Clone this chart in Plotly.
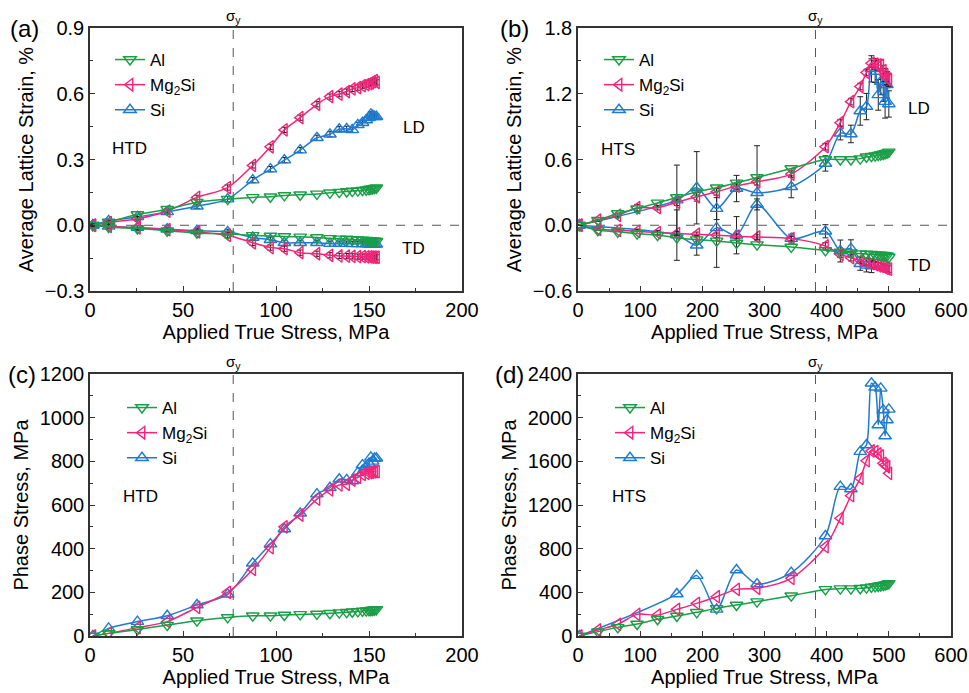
import plotly.graph_objects as go

# ---------------- data ----------------
# Panel (a)/(c): HTD
x_htd = [1.5, 10, 25.5, 41.5, 57.5, 74, 87.5, 97, 104.5, 113, 122, 129, 134, 138, 141, 144, 146.5, 148.5, 150, 151, 152, 153, 154]
al_ld_a = [0, 0.015, 0.049, 0.073, 0.105, 0.119, 0.127, 0.130, 0.136, 0.139, 0.143, 0.148, 0.151, 0.154, 0.156, 0.158, 0.160, 0.162, 0.164, 0.166, 0.167, 0.169, 0.171]
mg_ld_a = [0, 0.012, 0.030, 0.064, 0.127, 0.172, 0.273, 0.358, 0.435, 0.491, 0.552, 0.587, 0.598, 0.610, 0.622, 0.628, 0.637, 0.642, 0.646, 0.650, 0.655, 0.660, 0.652]
si_ld_a = [0, 0.020, 0.038, 0.061, 0.087, 0.119, 0.206, 0.256, 0.297, 0.343, 0.399, 0.415, 0.438, 0.440, 0.435, 0.458, 0.468, 0.480, 0.490, 0.506, 0.500, 0.495, 0.495]
al_td_a = [0, -0.008, -0.015, -0.025, -0.035, -0.040, -0.046, -0.049, -0.051, -0.053, -0.056, -0.060, -0.062, -0.063, -0.065, -0.066, -0.067, -0.068, -0.069, -0.070, -0.071, -0.072, -0.073]
mg_td_a = [0, -0.005, -0.012, -0.020, -0.030, -0.046, -0.080, -0.102, -0.107, -0.125, -0.130, -0.137, -0.140, -0.141, -0.142, -0.143, -0.143, -0.144, -0.144, -0.145, -0.145, -0.146, -0.146]
si_td_a = [0, -0.005, -0.010, -0.018, -0.025, -0.030, -0.056, -0.066, -0.080, -0.080, -0.080, -0.084, -0.084, -0.084, -0.085, -0.085, -0.085, -0.086, -0.086, -0.086, -0.087, -0.087, -0.087]
err_small_a = [0.006, 0.008, 0.010, 0.010, 0.010, 0.012, 0.012, 0.012, 0.012, 0.012, 0.012, 0.012, 0.012, 0.012, 0.012, 0.012, 0.012, 0.012, 0.012, 0.012, 0.012, 0.012, 0.012]

al_c = [0, 12, 30, 50, 70, 85, 93, 93, 96, 99, 101, 104, 107, 109, 111, 113, 115, 116, 117, 118, 119, 120, 122]
mg_c = [0, 12, 38, 66, 131, 200, 305, 405, 500, 554, 627, 669, 692, 695, 714, 727, 740, 745, 748, 750, 752, 753, 753]
si_c = [0, 35, 66, 93, 142, 191, 333, 421, 490, 562, 650, 679, 718, 715, 710, 748, 783, 776, 790, 818, 800, 814, 814]

# Panel (b)/(d): HTS
x_hts = [2, 32, 64, 95, 128, 159, 191, 223, 255, 288, 343, 398, 422, 439, 454, 464, 472, 478, 483, 487, 491, 494, 497, 500]
x_hts_si = [2, 159, 191, 223, 255, 288, 343, 398, 422, 439, 454, 464, 472, 478, 483, 487, 491, 494, 497, 500]
x_hts_si_td = [2, 159, 191, 223, 255, 288, 343, 398, 422, 439, 454, 464, 472]

al_ld_b = [0, 0.046, 0.107, 0.152, 0.204, 0.253, 0.305, 0.342, 0.387, 0.436, 0.518, 0.600, 0.600, 0.600, 0.608, 0.625, 0.630, 0.635, 0.640, 0.645, 0.650, 0.655, 0.660, 0.670]
mg_ld_b = [0, 0.046, 0.090, 0.160, 0.160, 0.210, 0.260, 0.305, 0.357, 0.396, 0.467, 0.717, 0.936, 1.128, 1.266, 1.394, 1.479, 1.470, 1.464, 1.460, 1.410, 1.372, 1.342, 1.327]
mg_ld_b_err = [0, 0.01, 0.02, 0.03, 0.02, 0.03, 0.04, 0.03, 0.03, 0.03, 0.03, 0.03, 0.03, 0.03, 0.03, 0.03, 0.04, 0.05, 0.05, 0.05, 0.05, 0.06, 0.06, 0.06]
si_ld_b = [0, 0.229, 0.342, 0.152, 0.335, 0.296, 0.351, 0.564, 0.839, 0.833, 1.043, 1.083, 1.427, 1.403, 1.190, 1.311, 1.281, 1.128, 1.281, 1.107]
si_ld_b_err = [0, 0.32, 0.33, 0.10, 0.12, 0.43, 0.10, 0.07, 0.06, 0.08, 0.13, 0.12, 0.12, 0.10, 0.14, 0.12, 0.15, 0.15, 0.12, 0.12]
al_td_b = [0, -0.046, -0.060, -0.076, -0.091, -0.113, -0.131, -0.143, -0.162, -0.177, -0.198, -0.229, -0.244, -0.250, -0.259, -0.262, -0.265, -0.268, -0.270, -0.272, -0.274, -0.276, -0.278, -0.290]
mg_td_b = [0, -0.037, -0.046, -0.055, -0.067, -0.076, -0.082, -0.091, -0.100, -0.107, -0.122, -0.189, -0.265, -0.296, -0.320, -0.335, -0.351, -0.360, -0.370, -0.375, -0.380, -0.390, -0.395, -0.400]
mg_td_b_err = [0, 0.01, 0.01, 0.02, 0.02, 0.02, 0.02, 0.02, 0.02, 0.02, 0.02, 0.03, 0.03, 0.03, 0.03, 0.03, 0.03, 0.03, 0.03, 0.03, 0.03, 0.03, 0.03, 0.03]
si_td_b = [0, -0.090, -0.183, -0.024, -0.091, 0.190, -0.122, -0.055, -0.235, -0.213, -0.351, -0.366, -0.372]
si_td_b_err = [0, 0.23, 0.09, 0.36, 0.17, 0.05, 0.04, 0.06, 0.10, 0.08, 0.06, 0.06, 0.06]

al_d = [0, 40, 79, 110, 153, 183, 217, 253, 284, 315, 369, 427, 434, 434, 437, 443, 450, 455, 458, 462, 466, 470, 475, 482]
mg_d = [0, 55, 107, 198, 192, 244, 299, 360, 427, 437, 528, 818, 1078, 1285, 1444, 1606, 1695, 1689, 1667, 1649, 1582, 1566, 1551, 1490]
si_d = [0, 385, 553, 244, 605, 476, 580, 916, 1368, 1347, 1689, 1750, 2315, 2278, 1933, 2268, 2070, 1832, 1979, 2076]

# ---------------- style ----------------
GREEN = "#1a9e46"
PINK = "#f5247a"
BLUE = "#1f7bd0"
FONT = "Liberation Sans, Arial, sans-serif"

W, H = 969, 693
def px_x(p):
    return p / W
def px_y(p):
    return 1 - p / H

dom_x_left = [px_x(90), px_x(462)]
dom_x_right = [px_x(578), px_x(951)]
dom_y_top = [px_y(291), px_y(28)]
dom_y_bot = [px_y(636), px_y(374)]

fig = go.Figure()

def err(arr):
    return dict(type="data", array=arr, color="#222222", thickness=1, width=3)

def add(x, y, name, color, symbol, xa, ya, legend, show, rank, e=None):
    fig.add_trace(go.Scatter(
        x=x, y=y, name=name, mode="lines+markers",
        line=dict(color=color, width=1.5, shape="spline", smoothing=0.8),
        marker=dict(symbol=symbol, size=11, color=color,
                    line=dict(color=color, width=1.4)),
        error_y=err(e) if e is not None else None,
        xaxis=xa, yaxis=ya, legend=legend, showlegend=show, legendrank=rank,
    ))

MG = "Mg<sub>2</sub>Si"
# panel a
add(x_htd, si_td_a, "Si", BLUE, "triangle-up-open", "x", "y", "legend", False, 3, err_small_a)
add(x_htd, mg_td_a, MG, PINK, "triangle-left-open", "x", "y", "legend", False, 2, err_small_a)
add(x_htd, al_td_a, "Al", GREEN, "triangle-down-open", "x", "y", "legend", False, 1)
add(x_htd, si_ld_a, "Si", BLUE, "triangle-up-open", "x", "y", "legend", True, 3, err_small_a)
add(x_htd, mg_ld_a, MG, PINK, "triangle-left-open", "x", "y", "legend", True, 2, err_small_a)
add(x_htd, al_ld_a, "Al", GREEN, "triangle-down-open", "x", "y", "legend", True, 1)
# panel b
add(x_hts_si_td, si_td_b, "Si", BLUE, "triangle-up-open", "x2", "y2", "legend2", False, 3, si_td_b_err)
add(x_hts, mg_td_b, MG, PINK, "triangle-left-open", "x2", "y2", "legend2", False, 2, mg_td_b_err)
add(x_hts, al_td_b, "Al", GREEN, "triangle-down-open", "x2", "y2", "legend2", False, 1)
add(x_hts_si, si_ld_b, "Si", BLUE, "triangle-up-open", "x2", "y2", "legend2", True, 3, si_ld_b_err)
add(x_hts, mg_ld_b, MG, PINK, "triangle-left-open", "x2", "y2", "legend2", True, 2, mg_ld_b_err)
add(x_hts, al_ld_b, "Al", GREEN, "triangle-down-open", "x2", "y2", "legend2", True, 1)
# panel c
add(x_htd, si_c, "Si", BLUE, "triangle-up-open", "x3", "y3", "legend3", True, 3)
add(x_htd, mg_c, MG, PINK, "triangle-left-open", "x3", "y3", "legend3", True, 2)
add(x_htd, al_c, "Al", GREEN, "triangle-down-open", "x3", "y3", "legend3", True, 1)
# panel d
add(x_hts_si, si_d, "Si", BLUE, "triangle-up-open", "x4", "y4", "legend4", True, 3)
add(x_hts, mg_d, MG, PINK, "triangle-left-open", "x4", "y4", "legend4", True, 2)
add(x_hts, al_d, "Al", GREEN, "triangle-down-open", "x4", "y4", "legend4", True, 1)

axis_common = dict(
    showline=True, linecolor="#333333", linewidth=1.5, mirror=True,
    ticks="inside", ticklen=5, tickwidth=1.2, tickcolor="#333333",
    showgrid=False, zeroline=False, automargin=False,
    tickfont=dict(family=FONT, size=20, color="black"),
    title_font=dict(family=FONT, size=20, color="black"),
    minor=dict(ticks="inside", ticklen=3, tickwidth=1, tickcolor="#333333", showgrid=False),
)

xt = "Applied True Stress, MPa"
fig.update_layout(
    width=W, height=H, margin=dict(l=0, r=0, t=0, b=0),
    paper_bgcolor="white", plot_bgcolor="white",
    font=dict(family=FONT, color="black"),
    xaxis=dict(axis_common, domain=dom_x_left, anchor="y", range=[0, 200], dtick=50,
               minor_dtick=25, title=dict(text=xt, standoff=5)),
    yaxis=dict(axis_common, domain=dom_y_top, anchor="x", range=[-0.3, 0.9], dtick=0.3,
               tick0=0, minor_dtick=0.15, tickformat=".1f",
               title=dict(text="Average Lattice Strain, %", standoff=6)),
    xaxis2=dict(axis_common, domain=dom_x_right, anchor="y2", range=[0, 600], dtick=100,
                minor_dtick=50, title=dict(text=xt, standoff=5)),
    yaxis2=dict(axis_common, domain=dom_y_top, anchor="x2", range=[-0.6, 1.8], dtick=0.6,
                tick0=0, minor_dtick=0.3, tickformat=".1f",
                title=dict(text="Average Lattice Strain, %", standoff=6)),
    xaxis3=dict(axis_common, domain=dom_x_left, anchor="y3", range=[0, 200], dtick=50,
                minor_dtick=25, title=dict(text=xt, standoff=5)),
    yaxis3=dict(axis_common, domain=dom_y_bot, anchor="x3", range=[0, 1200], dtick=200,
                minor_dtick=100, title=dict(text="Phase Stress, MPa", standoff=6)),
    xaxis4=dict(axis_common, domain=dom_x_right, anchor="y4", range=[0, 600], dtick=100,
                minor_dtick=50, title=dict(text=xt, standoff=5)),
    yaxis4=dict(axis_common, domain=dom_y_bot, anchor="x4", range=[0, 2400], dtick=400,
                minor_dtick=200, title=dict(text="Phase Stress, MPa", standoff=6)),
)

leg_common = dict(font=dict(family=FONT, size=17, color="black"), bgcolor="rgba(0,0,0,0)",
                  tracegroupgap=0, itemwidth=30, xanchor="left", yanchor="top", traceorder="normal")
fig.update_layout(
    legend=dict(leg_common, x=px_x(110), y=px_y(42)),
    legend2=dict(leg_common, x=px_x(599), y=px_y(42)),
    legend3=dict(leg_common, x=px_x(122), y=px_y(390)),
    legend4=dict(leg_common, x=px_x(610), y=px_y(390)),
)

# dashed reference lines
dash = dict(color="#555555", width=1, dash="dash")
for xr, yr, xv in [("x", "y", 77), ("x2", "y2", 382), ("x3", "y3", 77), ("x4", "y4", 382)]:
    fig.add_shape(type="line", xref=xr, yref=yr + " domain", x0=xv, x1=xv, y0=0, y1=1,
                  line=dash, layer="below")
for xr, yr in [("x", "y"), ("x2", "y2")]:
    fig.add_shape(type="line", xref=xr + " domain", yref=yr, x0=0, x1=1, y0=0, y1=0,
                  line=dash, layer="below")

def ann(text, x, y, xref, yref, size=17, **kw):
    fig.add_annotation(text=text, x=x, y=y, xref=xref, yref=yref, showarrow=False,
                       font=dict(family=FONT, size=size, color="black"), **kw)

# sigma_y labels
ann("σ<sub>y</sub>", 77, 1.0, "x", "y domain", size=15, yanchor="bottom")
ann("σ<sub>y</sub>", 382, 1.0, "x2", "y2 domain", size=15, yanchor="bottom")
ann("σ<sub>y</sub>", 77, 1.0, "x3", "y3 domain", size=15, yanchor="bottom")
ann("σ<sub>y</sub>", 382, 1.0, "x4", "y4 domain", size=15, yanchor="bottom")

# panel texts
ann("HTD", 21.5, 0.348, "x", "y")
ann("LD", 174, 0.445, "x", "y")
ann("TD", 174, -0.107, "x", "y")
ann("HTS", 64.6, 0.695, "x2", "y2")
ann("LD", 549, 1.067, "x2", "y2")
ann("TD", 549, -0.366, "x2", "y2")
ann("HTD", 27.3, 638, "x3", "y3")
ann("HTS", 82, 1276, "x4", "y4")

# panel letters
for t, px, py in [("(a)", 24, 28), ("(b)", 514, 28), ("(c)", 22, 374), ("(d)", 509, 374)]:
    ann(t, px_x(px), px_y(py), "paper", "paper", size=24, xanchor="center", yanchor="middle")

fig.write_html("out.html")
